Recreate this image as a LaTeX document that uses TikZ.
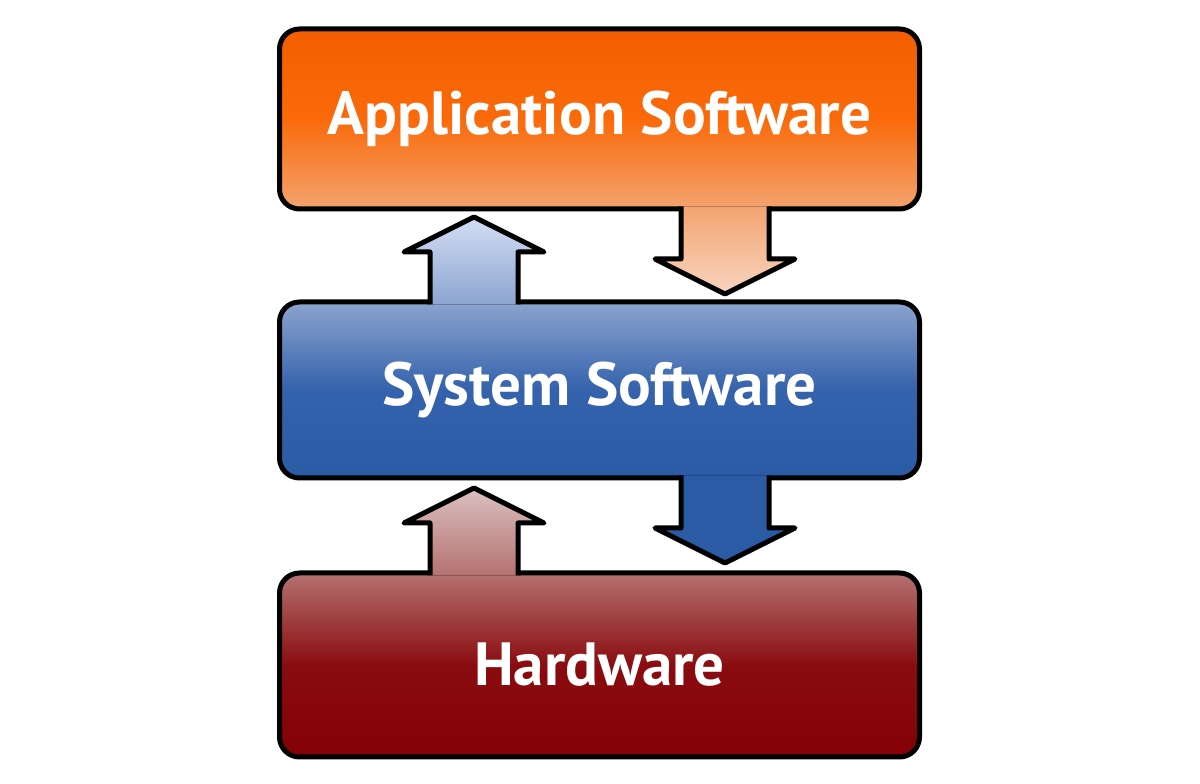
\documentclass[tikz,border=0pt]{standalone}
\usepackage{fontspec}
\setmainfont{PT Sans}
\usetikzlibrary{positioning}

\definecolor{apptop}{HTML}{F25E00}
\definecolor{appmid}{HTML}{FA6A0A}
\definecolor{appbot}{HTML}{F3A470}
\definecolor{apptip}{HTML}{F8D5C0}
\definecolor{systop}{HTML}{8CA4CF}
\definecolor{sysmid}{HTML}{3462AC}
\definecolor{sysbot}{HTML}{2C5BA5}
\definecolor{systip}{HTML}{D3DEF4}
\definecolor{hwtop}{HTML}{B47270}
\definecolor{hwmid}{HTML}{8A0C10}
\definecolor{hwbot}{HTML}{840004}
\definecolor{hwtip}{HTML}{DBC0C0}

\begin{document}
\begin{tikzpicture}[
                x = 1pt,
                y = 1pt,
                node distance = 93pt,
                line join = round
                ]

                \tikzstyle{layer}=[
                        draw = black,
                        line width = 5pt,
                        rounded corners = 20pt,
                        minimum width = 640pt,
                        outer sep = 0pt,
                        text = white,
                        font = \fontsize{61}{63}\selectfont\bfseries
                ]
                \tikzstyle{flow}=[
                        draw = black,
                        line width = 5pt,
                        line join = round
                ]

                \useasboundingbox (0,0) rectangle (1200,784);

                \node[layer, minimum height = 180pt, top color = apptop, bottom color = appbot, middle color = appmid] (app) at (599.5,665) {Application Software};
                \node[layer, minimum height = 176pt, top color = systop, bottom color = sysbot, middle color = sysmid] (sys) [below=of app] {System Software};
                \node[layer, minimum height = 184pt, top color = hwtop, bottom color = hwbot, middle color = hwmid] (hw) [below=95pt of sys] {Hardware};

                % down: application -> system
                \draw[flow, top color = appbot, bottom color = apptip] ([xshift=81.5pt, yshift=2.5pt]app.south) -- ++(0,-52.5) -- ++(-26,0) -- ++(70,-35) -- ++(70,35) -- ++(-26,0) -- ++(0,52.5);
                % up: system -> application
                \draw[flow, top color = systip, bottom color = systop] ([xshift=-169.5pt, yshift=-2.5pt]sys.north) -- ++(0,52.5) -- ++(-26,0) -- ++(70,35) -- ++(70,-35) -- ++(-26,0) -- ++(0,-52.5);
                % down: system -> hardware
                \draw[flow, fill = sysbot] ([xshift=81.5pt, yshift=2.5pt]sys.south) -- ++(0,-52.5) -- ++(-26,0) -- ++(70,-35) -- ++(70,35) -- ++(-26,0) -- ++(0,52.5);
                % up: hardware -> system
                \draw[flow, top color = hwtip, bottom color = hwtop] ([xshift=-169.5pt, yshift=-2.5pt]hw.north) -- ++(0,52.5) -- ++(-26,0) -- ++(70,35) -- ++(70,-35) -- ++(-26,0) -- ++(0,-52.5);
\end{tikzpicture}
\end{document}
